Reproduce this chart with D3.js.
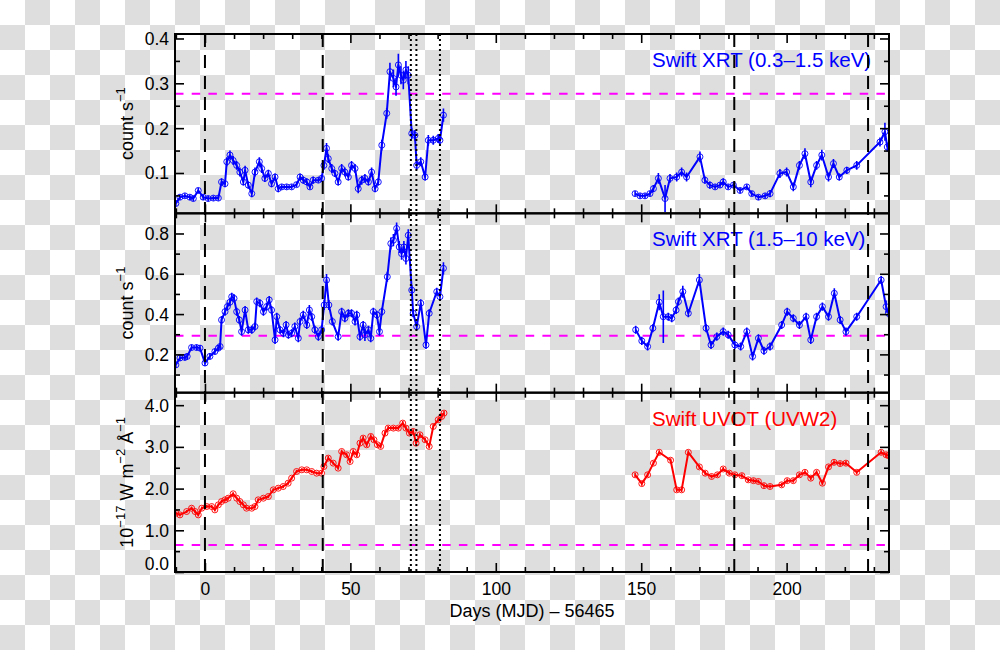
<!DOCTYPE html>
<html>
<head>
<meta charset="utf-8">
<script src="https://cdn.jsdelivr.net/npm/d3@7"></script>
<style>
  body { margin: 0; background: #fff; }
  svg { display: block; font-family: "Liberation Sans", Arial, Helvetica, sans-serif; }
</style>
</head>
<body>
<div id="chart"></div>
<script>

// [day, value, error]
var softEarly = [
  [-10,0.032,0.006],[-8.6,0.046,0.006],[-6.9,0.049,0.006],[-5.2,0.046,0.006],[-4,0.043,0.006],
  [-2.3,0.061,0.006],[-0.6,0.046,0.006],[1.1,0.043,0.006],[2.9,0.044,0.006],[4.6,0.044,0.006],
  [5.7,0.08,0.008],[6.9,0.076,0.008],[7.5,0.125,0.01],[8.6,0.14,0.01],[9.7,0.128,0.01],
  [10.9,0.117,0.01],[12,0.102,0.01],[13.2,0.08,0.008],[13.8,0.106,0.01],[14.9,0.073,0.008],
  [16.1,0.054,0.008],[17.2,0.102,0.01],[18.7,0.125,0.01],[19.5,0.11,0.01],[20.6,0.088,0.008],
  [21.8,0.099,0.008],[22.9,0.076,0.008],[24.1,0.091,0.008],[25.2,0.065,0.008],[26.4,0.069,0.006],
  [28.1,0.069,0.006],[29.8,0.069,0.006],[31.5,0.074,0.006],[32.7,0.091,0.008],[33.8,0.084,0.008],
  [35,0.08,0.008],[36.1,0.069,0.006],[37.2,0.084,0.008],[39,0.084,0.006],[40.1,0.088,0.008],
  [40.9,0.117,0.01],[41.8,0.155,0.012],[42.4,0.132,0.01],[43.6,0.11,0.01],[44.7,0.099,0.008],
  [45.8,0.08,0.008],[47,0.11,0.01],[48.1,0.102,0.01],[49.3,0.091,0.008],[50.4,0.117,0.01],
  [51.6,0.11,0.01],[52.7,0.065,0.01],[53.9,0.084,0.01],[55,0.088,0.01],[56.2,0.08,0.008],
  [57.3,0.102,0.01],[58.5,0.065,0.008],[59.6,0.08,0.008],[60.8,0.162,0.012],[62.5,0.233,0.012],
  [63.6,0.326,0.02],[64.8,0.311,0.02],[65.7,0.292,0.02],[66.5,0.341,0.025],[67.4,0.318,0.02],
  [68.2,0.307,0.02],[69.1,0.33,0.02],[69.9,0.318,0.02],[71.1,0.188,0.012],[72.2,0.184,0.012],
  [72.8,0.117,0.01],[74.2,0.125,0.01],[75.7,0.091,0.008],[76.8,0.173,0.012],[78.5,0.173,0.01],
  [80.2,0.177,0.01],[80.8,0.173,0.012],[82,0.229,0.015]
];
var softLate = [
  [147.9,0.054,0.006],[149.6,0.049,0.006],[151.3,0.049,0.006],[153,0.054,0.006],[154.2,0.065,0.008],
  [155.9,0.088,0.012],[158.2,0.043,0.03],[159.9,0.088,0.01],[162.2,0.091,0.01],[163.9,0.102,0.01],
  [165.6,0.091,0.01],[170.2,0.136,0.012],[171.9,0.084,0.008],[173.6,0.073,0.008],[175.4,0.069,0.006],
  [177.1,0.073,0.006],[178.2,0.08,0.008],[179.9,0.069,0.006],[181.7,0.073,0.006],[184,0.061,0.006],
  [186.3,0.069,0.006],[188,0.054,0.006],[190.3,0.046,0.006],[192.6,0.049,0.006],[194.3,0.054,0.008],
  [197.7,0.099,0.01],[200,0.102,0.01],[202.3,0.069,0.01],[204.4,0.117,0.01],[206.3,0.143,0.012],
  [208.3,0.08,0.012],[210.3,0.117,0.01],[212.1,0.14,0.012],[214.4,0.091,0.01],[216.1,0.121,0.01],
  [218.1,0.091,0.008],[220.7,0.106,0.008],[224.1,0.117,0.01],[232.1,0.169,0.01],[233.8,0.192,0.02],
  [234.6,0.158,0.01]
];

var hardEarly = [
  [-10,0.148,0.015],[-8.6,0.182,0.015],[-6.9,0.185,0.015],[-6.1,0.19,0.015],[-4.6,0.234,0.015],
  [-2.9,0.234,0.015],[-1.7,0.231,0.015],[0,0.157,0.015],[1.7,0.19,0.015],[3.4,0.214,0.015],
  [4.6,0.231,0.015],[5.2,0.239,0.015],[5.7,0.371,0.02],[6.9,0.412,0.02],[7.7,0.437,0.02],
  [8.6,0.459,0.02],[9.2,0.486,0.02],[10,0.478,0.02],[10.9,0.412,0.02],[11.8,0.371,0.02],
  [12.6,0.313,0.02],[13.8,0.42,0.02],[14.9,0.322,0.02],[16.1,0.322,0.02],[17.2,0.338,0.02],
  [17.8,0.462,0.02],[18.9,0.454,0.02],[20.1,0.412,0.02],[21.2,0.437,0.02],[22.1,0.47,0.02],
  [22.9,0.42,0.02],[24.1,0.272,0.02],[24.7,0.387,0.02],[25.8,0.322,0.02],[27,0.305,0.02],
  [27.9,0.346,0.02],[28.7,0.297,0.02],[29.8,0.305,0.02],[30.9,0.338,0.02],[32.1,0.28,0.02],
  [32.7,0.363,0.02],[33.8,0.396,0.02],[35,0.346,0.02],[35.9,0.42,0.025],[36.7,0.387,0.02],
  [37.8,0.322,0.02],[39,0.288,0.02],[40.1,0.322,0.02],[41,0.445,0.025],[41.8,0.569,0.03],
  [42.6,0.445,0.025],[43.8,0.363,0.02],[45.8,0.288,0.02],[47,0.412,0.02],[48.1,0.379,0.02],
  [49.3,0.404,0.02],[50.4,0.404,0.02],[51.6,0.363,0.02],[52.2,0.396,0.02],[53.3,0.288,0.02],
  [54.4,0.346,0.02],[55,0.297,0.03],[56.2,0.322,0.02],[57,0.28,0.02],[57.9,0.412,0.02],
  [59.1,0.396,0.02],[60,0.313,0.02],[60.8,0.412,0.02],[62.7,0.585,0.025],[63.9,0.75,0.03],
  [64.8,0.767,0.03],[65.9,0.825,0.03],[66.8,0.733,0.03],[67.6,0.7,0.03],[68.4,0.733,0.03],
  [69.1,0.676,0.03],[69.9,0.791,0.03],[71.1,0.519,0.025],[71.6,0.404,0.02],[72.8,0.338,0.02],
  [74.2,0.454,0.02],[76,0.247,0.02],[77.1,0.404,0.02],[79.7,0.511,0.02],[80.8,0.486,0.02],
  [82,0.627,0.03]
];
var hardLate = [
  [148.1,0.322,0.02],[150.2,0.267,0.02],[152.2,0.239,0.02],[154,0.33,0.02],[156.2,0.459,0.04],
  [157.6,0.387,0.13],[159.3,0.387,0.02],[160.5,0.379,0.02],[162,0.42,0.02],[162.8,0.462,0.02],
  [164.3,0.511,0.03],[166.2,0.404,0.02],[170,0.569,0.03],[172.3,0.33,0.02],[174,0.247,0.02],
  [176,0.288,0.02],[178.2,0.313,0.02],[179.9,0.297,0.02],[182.2,0.247,0.02],[184.2,0.239,0.02],
  [186.3,0.313,0.02],[188.3,0.19,0.02],[190.3,0.28,0.02],[192.2,0.218,0.02],[194.3,0.239,0.02],
  [198.3,0.346,0.02],[200.2,0.412,0.02],[202.3,0.379,0.02],[204.4,0.346,0.02],[206.7,0.387,0.02],
  [208.3,0.272,0.02],[210.3,0.387,0.02],[212.3,0.437,0.02],[214.4,0.387,0.02],[216.4,0.503,0.025],
  [218.4,0.371,0.02],[220.4,0.313,0.02],[224.1,0.387,0.02],[232.5,0.569,0.02],[234.2,0.437,0.03],
  [235,0.404,0.02]
];

var uvEarly = [
  [-10,1.41,0.04],[-8.6,1.37,0.04],[-6.3,1.45,0.04],[-4.6,1.53,0.04],[-3.4,1.45,0.04],
  [-2.3,1.37,0.04],[-1.1,1.53,0.04],[0.6,1.57,0.04],[2.3,1.57,0.04],[3.4,1.49,0.04],
  [4.6,1.61,0.04],[5.7,1.69,0.04],[6.9,1.73,0.04],[8,1.77,0.04],[9.7,1.875,0.04],
  [10.9,1.77,0.04],[12,1.69,0.04],[13.2,1.61,0.04],[14.3,1.53,0.04],[16.1,1.53,0.04],
  [17.2,1.57,0.04],[18.3,1.73,0.04],[20.1,1.77,0.04],[21.8,1.81,0.04],[23.5,1.97,0.04],
  [25.2,2.01,0.04],[26.9,2.05,0.04],[28.6,2.13,0.04],[29.8,2.25,0.04],[31.5,2.41,0.04],
  [33.3,2.45,0.04],[35,2.45,0.04],[36.7,2.41,0.04],[38.4,2.37,0.04],[40.1,2.37,0.04],
  [40.9,2.53,0.04],[42.4,2.73,0.05],[44.1,2.61,0.04],[45.8,2.49,0.04],[47,2.89,0.05],
  [48.7,2.81,0.05],[49.9,2.65,0.04],[51,2.89,0.05],[52.2,2.81,0.05],[53.3,3.09,0.05],
  [54.4,3.21,0.05],[55.6,3.05,0.05],[57,3.25,0.05],[58.1,3.17,0.05],[59.3,3.05,0.05],
  [60.4,3.01,0.05],[61.9,3.33,0.05],[63,3.45,0.05],[64.8,3.45,0.05],[66.5,3.45,0.05],
  [68,3.57,0.05],[69.1,3.45,0.05],[70.3,3.33,0.05],[71.6,3.37,0.05],[72.6,3.09,0.05],
  [73.9,3.29,0.05],[75.7,3.17,0.05],[77.1,3.01,0.05],[78.5,3.49,0.05],[80.2,3.65,0.05],
  [81.4,3.73,0.05],[82.2,3.81,0.05]
];
var uvLate = [
  [147.9,2.33,0.05],[150.2,2.12,0.05],[152.2,2.33,0.05],[154.2,2.61,0.05],[156.2,2.87,0.05],
  [160.1,2.68,0.05],[162.2,1.97,0.05],[163.9,1.97,0.05],[166.2,2.87,0.05],[170,2.52,0.05],
  [172,2.37,0.05],[174.2,2.29,0.05],[176.2,2.33,0.05],[178.2,2.47,0.05],[180.3,2.37,0.05],
  [182.2,2.33,0.05],[184.6,2.31,0.05],[186.8,2.21,0.05],[188.6,2.19,0.05],[190.3,2.17,0.05],
  [192.2,2.07,0.05],[194.3,2.05,0.05],[198.3,2.09,0.05],[200.2,2.19,0.05],[202.3,2.19,0.05],
  [204.4,2.33,0.05],[206.3,2.39,0.05],[208.3,2.25,0.05],[210.3,2.39,0.05],[212.3,2.13,0.05],
  [214.4,2.52,0.05],[216.3,2.63,0.05],[218.4,2.6,0.05],[220.4,2.61,0.05],[224.1,2.39,0.05],
  [232.5,2.87,0.05],[234.2,2.81,0.05],[235,2.79,0.05]
];

var dashedDays = [0, 40.5, 182, 228];
var dottedDays = [70.8, 72.7, 80.8];
var quiescent = [0.277, 0.293, 0.65];

var xTicks = [0, 50, 100, 150, 200];
var xMinorTicks = [-10, 10, 20, 30, 40, 60, 70, 80, 90, 110, 120, 130, 140, 160, 170, 180, 190, 210, 220, 230];

var softTicks = [0.1, 0.2, 0.3, 0.4];
var softMinor = [0.05, 0.15, 0.25, 0.35];
var hardTicks = [0.2, 0.4, 0.6, 0.8];
var hardMinor = [0.1, 0.3, 0.5, 0.7];
var uvTicks = [0, 1, 2, 3, 4];
var uvMinor = [0.5, 1.5, 2.5, 3.5];

var panelNames = ['Swift XRT (0.3–1.5 keV)', 'Swift XRT (1.5–10 keV)', 'Swift UVOT (UVW2)'];
var xTitle = 'Days (MJD) – 56465';

var CONSTANTS = {
  WIDTH: 1000,
  HEIGHT: 650,
  LEFT: 175,
  RIGHT: 889,
  TOP: 34,
  BOTTOM: 572,
  CHECKER: 25,
  TICK_FONT: 17.5,
  TITLE_FONT: 18,
  SUP_FONT: 13,
  NAME_FONT: 20.5
};

function translate(x, y) {
  return 'translate(' + x + ',' + y + ')';
}

var panels = [
  { 'name': panelNames[0], 'color': '#0000ff', 'series': [softEarly, softLate],
    'domain': [0.01, 0.41], 'ticks': softTicks, 'minor': softMinor, 'fmt': d3.format('.1f'),
    'level': quiescent[0], 'title': [['count s', 0], ['−1', 1]] },
  { 'name': panelNames[1], 'color': '#0000ff', 'series': [hardEarly, hardLate],
    'domain': [0.01, 0.9], 'ticks': hardTicks, 'minor': hardMinor, 'fmt': d3.format('.1f'),
    'level': quiescent[1], 'title': [['count s', 0], ['−1', 1]] },
  { 'name': panelNames[2], 'color': '#ff0000', 'series': [uvEarly, uvLate],
    'domain': [0, 4.3], 'ticks': uvTicks, 'minor': uvMinor, 'fmt': d3.format('.1f'),
    'level': quiescent[2], 'title': [['10', 0], ['−17', 1], [' W m', 0], ['−2', 1], [' Å', 0], ['−1', 1]] }
];

var svg = d3.select('#chart').append('svg')
  .attr('width', CONSTANTS.WIDTH)
  .attr('height', CONSTANTS.HEIGHT);

// transparent-background checkerboard
var defs = svg.append('defs');
var pat = defs.append('pattern')
  .attr('id', 'checker')
  .attr('patternUnits', 'userSpaceOnUse')
  .attr('width', CONSTANTS.CHECKER * 2)
  .attr('height', CONSTANTS.CHECKER * 2);
pat.append('rect').attr('width', CONSTANTS.CHECKER * 2).attr('height', CONSTANTS.CHECKER * 2).attr('fill', '#ffffff');
pat.append('rect').attr('x', CONSTANTS.CHECKER).attr('y', 0)
  .attr('width', CONSTANTS.CHECKER).attr('height', CONSTANTS.CHECKER).attr('fill', '#dedede');
pat.append('rect').attr('x', 0).attr('y', CONSTANTS.CHECKER)
  .attr('width', CONSTANTS.CHECKER).attr('height', CONSTANTS.CHECKER).attr('fill', '#dedede');

svg.append('rect')
  .attr('width', CONSTANTS.WIDTH)
  .attr('height', CONSTANTS.HEIGHT)
  .attr('fill', 'url(#checker)');

var x = d3.scaleLinear().domain([-10.3, 235.2]).range([CONSTANTS.LEFT, CONSTANTS.RIGHT]);
var panelHeight = (CONSTANTS.BOTTOM - CONSTANTS.TOP) / panels.length;

defs.append('clipPath').attr('id', 'clip-all')
  .append('rect')
  .attr('x', CONSTANTS.LEFT).attr('y', CONSTANTS.TOP)
  .attr('width', CONSTANTS.RIGHT - CONSTANTS.LEFT)
  .attr('height', CONSTANTS.BOTTOM - CONSTANTS.TOP);

panels.forEach(function(p, i) {

  var top = CONSTANTS.TOP + i * panelHeight;
  var bottom = top + panelHeight;
  var isLast = i === panels.length - 1;

  var y = d3.scaleLinear().domain(p.domain).range([bottom, top]);

  defs.append('clipPath').attr('id', 'clip-' + i)
    .append('rect')
    .attr('x', CONSTANTS.LEFT).attr('y', top)
    .attr('width', CONSTANTS.RIGHT - CONSTANTS.LEFT)
    .attr('height', panelHeight);

  var g = svg.append('g').attr('class', 'panel panel-' + i);

  // quiescent level
  g.append('line')
    .attr('x1', CONSTANTS.LEFT).attr('x2', CONSTANTS.RIGHT)
    .attr('y1', y(p.level)).attr('y2', y(p.level))
    .attr('stroke', '#ff00ff')
    .attr('stroke-width', 2)
    .attr('stroke-dasharray', '8.5,8.2');

  // data
  var plot = g.append('g').attr('clip-path', 'url(#clip-' + i + ')');
  var line = d3.line()
    .x(function(d) { return x(d[0]); })
    .y(function(d) { return y(d[1]); });

  p.series.forEach(function(s) {

    plot.append('g').selectAll('line')
      .data(s)
      .enter().append('line')
      .attr('x1', function(d) { return x(d[0]); })
      .attr('x2', function(d) { return x(d[0]); })
      .attr('y1', function(d) { return y(d[1] - d[2]); })
      .attr('y2', function(d) { return y(d[1] + d[2]); })
      .attr('stroke', p.color)
      .attr('stroke-width', 1.6);

    plot.append('path')
      .attr('d', line(s))
      .attr('fill', 'none')
      .attr('stroke', p.color)
      .attr('stroke-width', 2)
      .attr('stroke-linejoin', 'round');

    plot.append('g').selectAll('circle')
      .data(s)
      .enter().append('circle')
      .attr('cx', function(d) { return x(d[0]); })
      .attr('cy', function(d) { return y(d[1]); })
      .attr('r', 3)
      .attr('fill', 'none')
      .attr('stroke', p.color)
      .attr('stroke-width', 0.9);
  });

  // axes: ticks point inward on every side
  var left = g.append('g').attr('transform', translate(CONSTANTS.LEFT, 0))
    .call(d3.axisLeft(y).tickValues(p.ticks).tickSize(-9).tickPadding(6).tickFormat(p.fmt));
  g.append('g').attr('transform', translate(CONSTANTS.LEFT, 0))
    .call(d3.axisLeft(y).tickValues(p.minor).tickSize(-5).tickFormat(''));
  g.append('g').attr('transform', translate(CONSTANTS.RIGHT, 0))
    .call(d3.axisRight(y).tickValues(p.ticks).tickSize(-9).tickFormat(''));
  g.append('g').attr('transform', translate(CONSTANTS.RIGHT, 0))
    .call(d3.axisRight(y).tickValues(p.minor).tickSize(-5).tickFormat(''));

  g.append('g').attr('transform', translate(0, top))
    .call(d3.axisTop(x).tickValues(xTicks).tickSize(-9).tickFormat(''));
  g.append('g').attr('transform', translate(0, top))
    .call(d3.axisTop(x).tickValues(xMinorTicks).tickSize(-5).tickFormat(''));
  var bottomAxis = g.append('g').attr('transform', translate(0, bottom))
    .call(d3.axisBottom(x).tickValues(xTicks).tickSize(-9).tickPadding(11)
      .tickFormat(isLast ? d3.format('d') : ''));
  g.append('g').attr('transform', translate(0, bottom))
    .call(d3.axisBottom(x).tickValues(xMinorTicks).tickSize(-5).tickFormat(''));

  g.selectAll('.domain').remove();
  g.selectAll('.tick line').attr('stroke', '#000').attr('stroke-width', 1.6);
  g.selectAll('.tick text').attr('font-size', CONSTANTS.TICK_FONT).attr('fill', '#000')
    .attr('font-family', '"Liberation Sans", Arial, Helvetica, sans-serif');

  // lowest label sits just above the corner
  left.selectAll('.tick text').attr('dy', function(d) {
    return (bottom - y(d) < 8) ? '-0.15em' : '0.34em';
  });
  bottomAxis.selectAll('.tick text').attr('dy', '0.71em');

  // frame
  g.append('rect')
    .attr('x', CONSTANTS.LEFT).attr('y', top)
    .attr('width', CONSTANTS.RIGHT - CONSTANTS.LEFT)
    .attr('height', panelHeight)
    .attr('fill', 'none')
    .attr('stroke', '#000')
    .attr('stroke-width', 2);

  // panel name
  g.append('text')
    .attr('x', 652)
    .attr('y', top + 33)
    .attr('font-size', CONSTANTS.NAME_FONT)
    .attr('fill', p.color)
    .text(p.name);

  // y title with superscripts
  var title = g.append('text')
    .attr('transform', translate(133, (top + bottom) / 2) + ' rotate(-90)')
    .attr('text-anchor', 'middle')
    .attr('font-size', CONSTANTS.TITLE_FONT)
    .attr('fill', '#000');
  var raised = false;
  p.title.forEach(function(part) {
    var sup = part[1] === 1;
    var dy = 0;
    if (sup && !raised) { dy = -8; raised = true; }
    if (!sup && raised) { dy = 8; raised = false; }
    title.append('tspan')
      .attr('dy', dy)
      .attr('font-size', sup ? CONSTANTS.SUP_FONT : CONSTANTS.TITLE_FONT)
      .text(part[0]);
  });

});

// event markers across all panels
var markers = svg.append('g').attr('clip-path', 'url(#clip-all)');

markers.selectAll('.dashed')
  .data(dashedDays)
  .enter().append('line')
  .attr('class', 'dashed')
  .attr('x1', function(d) { return x(d); })
  .attr('x2', function(d) { return x(d); })
  .attr('y1', CONSTANTS.TOP).attr('y2', CONSTANTS.BOTTOM)
  .attr('stroke', '#000')
  .attr('stroke-width', 2)
  .attr('stroke-dasharray', '13,8');

markers.selectAll('.dotted')
  .data(dottedDays)
  .enter().append('line')
  .attr('class', 'dotted')
  .attr('x1', function(d) { return x(d); })
  .attr('x2', function(d) { return x(d); })
  .attr('y1', CONSTANTS.TOP).attr('y2', CONSTANTS.BOTTOM)
  .attr('stroke', '#000')
  .attr('stroke-width', 2)
  .attr('stroke-dasharray', '2,3');

// x title
svg.append('text')
  .attr('x', (CONSTANTS.LEFT + CONSTANTS.RIGHT) / 2)
  .attr('y', 617)
  .attr('text-anchor', 'middle')
  .attr('font-size', CONSTANTS.TITLE_FONT)
  .attr('fill', '#000')
  .text(xTitle);

</script>
</body>
</html>
